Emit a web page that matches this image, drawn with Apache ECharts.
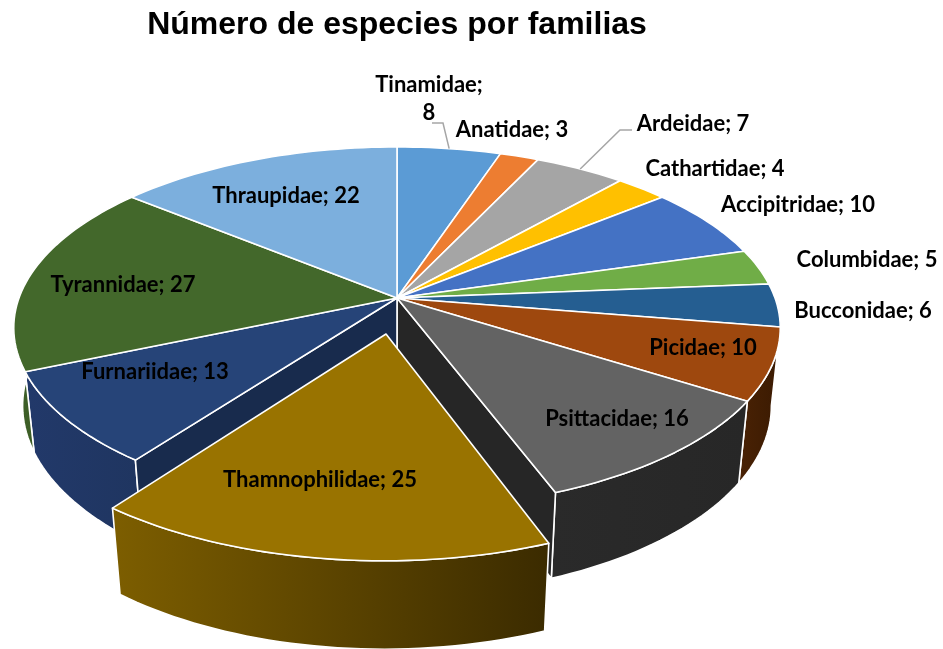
<!DOCTYPE html>
<html><head><meta charset="utf-8">
<style>html,body{margin:0;padding:0;background:#fff}#c{width:943px;height:649px}</style>
<script src="https://cdn.jsdelivr.net/npm/echarts@6/dist/echarts.min.js"></script>
</head><body><div id="c"></div>
<script>
const families = ['Tinamidae','Anatidae','Ardeidae','Cathartidae','Accipitridae','Columbidae','Bucconidae','Picidae','Psittacidae','Thamnophilidae','Furnariidae','Tyrannidae','Thraupidae'];
const counts = [8,3,7,4,10,5,6,10,16,25,13,27,22];
const topColors = ['#5B9BD5','#ED7D31','#A5A5A5','#FFC000','#4472C4','#70AD47','#255E91','#9E480E','#636363','#997300','#264478','#43682B','#7CAFDD'];
const wallLeft = ['#2d5d8a','#8f4b1d','#636363','#997300','#29447a','#43682b','#163857','#4a2204','#2a2a2a','#7d5e00','#22396a','#3f6129','#4a6985'];
const wallRight = ['#2d5d8a','#8f4b1d','#636363','#997300','#29447a','#43682b','#163857','#3a1a02','#272727','#3b2b00','#1f3560','#37561f','#4a6985'];
const explodedFamily = 'Thamnophilidae';
const title = 'Número de especies por familias';
const labelCentres = {Tinamidae:[429,99],Anatidae:[512,130],Ardeidae:[693,124],Cathartidae:[715,169],Accipitridae:[798,205],Columbidae:[867,260],Bucconidae:[863,311],Picidae:[703,348],Psittacidae:[617,419],Thamnophilidae:[320,480],Furnariidae:[155,372],Tyrannidae:[123,285],Thraupidae:[286,196]};
const leaderElbows = {Tinamidae:[[443,123],[432,123]],Ardeidae:[[620,130],[632,130]]};

// perspective model of the disc
const CX=397, CY=298, RX=378, RY=176, PERSP=0.165, DROP=79, DEPTHP=0.023, EXPLODE=0.2;
const total = counts.reduce((a,b)=>a+b,0);
const cum = []; counts.reduce((a,b,i)=>(cum[i]=a,a+b),0);
function proj(u,v,low){
  const d = 1+PERSP*v+(low?DEPTHP:0);
  return [CX+RX*u/d, CY+(-RY*v+(low?DROP:0))/d];
}
const rad = a=>a*Math.PI/180;
function rim(a0,a1,ox,oy,low){
  const n=Math.max(2,Math.ceil((a1-a0)/1.5)), pts=[];
  for(let i=0;i<=n;i++){const t=rad(a0+(a1-a0)*i/n);pts.push(proj(Math.sin(t)+ox,Math.cos(t)+oy,low));}
  return pts;
}
const wallSpanStart=90, wallSpanEnd=290;
const renderSlice=(params,api)=>{
  const i=params.dataIndex, val=api.value(0), name=families[i];
  const a0=cum[i]/total*360, a1=a0+val/total*360, mid=rad((a0+a1)/2);
  const ex=name===explodedFamily;
  const ox=ex?EXPLODE*Math.sin(mid):0, oy=ex?EXPLODE*Math.cos(mid):0;
  const kids=[];
  const line={stroke:'#fff',lineWidth:1.6,lineJoin:'round'};
  const w0=Math.max(a0,wallSpanStart), w1=Math.min(a1,wallSpanEnd);
  if(w1>w0){
    const pts=rim(w0,w1,ox,oy,false).concat(rim(w0,w1,ox,oy,true).reverse());
    kids.push({type:'polygon',z2:ex?5:1,shape:{points:pts},style:Object.assign({fill:new echarts.graphic.LinearGradient(0,0,1,0,[{offset:0,color:wallLeft[i]},{offset:1,color:wallRight[i]}])},line)});
  }
  // cut faces opened by the pulled-out slice
  const xi=families.indexOf(explodedFamily);
  if(i===xi-1||i===xi+1){
    const a=i===xi-1?a1:a0, t=rad(a);
    const pts=[proj(0,0,false),proj(Math.sin(t),Math.cos(t),false),proj(Math.sin(t),Math.cos(t),true),proj(0,0,true)];
    kids.push({type:'polygon',z2:2,shape:{points:pts},style:Object.assign({fill:i===xi-1?'#262626':'#182b4d'},line)});
  }
  const top=[proj(ox,oy,false)].concat(rim(a0,a1,ox,oy,false));
  kids.push({type:'polygon',z2:ex?6:3,shape:{points:top},style:Object.assign({fill:topColors[i]},line)});
  if(leaderElbows[name]){
    kids.push({type:'polyline',z2:4,shape:{points:[proj(Math.sin(mid),Math.cos(mid),false)].concat(leaderElbows[name])},style:{stroke:'#A6A6A6',lineWidth:1.5,fill:null}});
  }
  const c=labelCentres[name];
  const text=name==='Tinamidae'?name+';\n'+val:name+'; '+val;
  kids.push({type:'text',z2:10,x:c[0],y:c[1],style:{text:text,fill:'#000',font:'bold 22px Lato, sans-serif',align:'center',verticalAlign:'middle',lineHeight:28}});
  return {type:'group',children:kids};
};
const chart=echarts.init(document.getElementById('c'),null,{renderer:'canvas'});
chart.setOption({
  animation:false,
  backgroundColor:'#fff',
  title:{text:title,left:392,top:4,textAlign:'center',textStyle:{fontFamily:'"Liberation Sans", Arial, sans-serif',fontWeight:'bold',fontSize:32,color:'#000'}},
  series:[{type:'custom',coordinateSystem:'none',renderItem:renderSlice,data:counts.map((c,i)=>({name:families[i],value:[c]})),silent:true}]
});
</script></body></html>
